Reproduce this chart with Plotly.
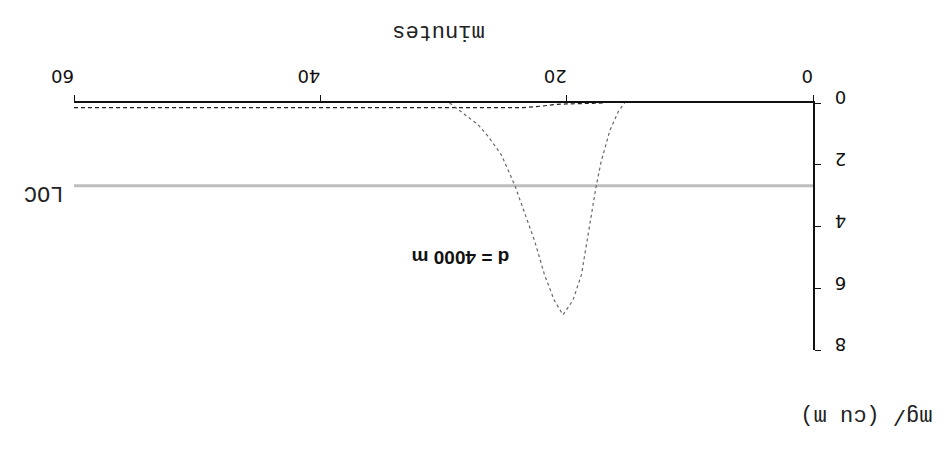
import plotly.graph_objects as go

# concentration curve for d = 4000 m (minutes, mg/cu m)
curve_min = [29.5, 27.2, 26.4, 25.3, 24.2, 23.4, 22.6, 21.8, 21.0, 20.3,
             19.5, 18.8, 18.3, 18.0, 17.6, 17.2, 16.5, 15.8, 15.3]
curve_conc = [0.0, 0.7, 1.07, 1.68, 2.68, 3.6, 4.47, 5.56, 6.4, 6.86,
              6.4, 5.56, 4.37, 3.6, 2.68, 1.9, 0.9, 0.27, 0.0]

# low dashed curve
dash_min = [60, 50, 40, 30, 23.5, 22, 21, 20, 18, 17]
dash_conc = [0.15, 0.15, 0.15, 0.15, 0.15, 0.1, 0.05, 0.03, 0.02, 0.0]

loc_level = 2.68
x_ticks = [0, 20, 40, 60]
y_ticks = [0, 2, 4, 6, 8]

fig = go.Figure()

fig.add_trace(go.Scatter(x=[0, 60], y=[loc_level, loc_level], mode="lines",
                         line=dict(color="#bdbdbd", width=3), showlegend=False))
fig.add_trace(go.Scatter(x=dash_min, y=dash_conc, mode="lines",
                         line=dict(color="#222", width=1.2, dash="4px,3px"), showlegend=False))
fig.add_trace(go.Scatter(x=curve_min, y=curve_conc, mode="lines",
                         line=dict(color="#666", width=1.2, dash="dot"), showlegend=False))

tick_font = dict(family="DejaVu Sans, sans-serif", size=18, color="#111")
mono = dict(family="Liberation Mono, DejaVu Sans Mono, monospace", size=22, color="#222")

fig.update_xaxes(range=[60, 0], side="top", tickvals=x_ticks, ticks="outside",
                 ticklen=6, tickcolor="#111", showline=True, linecolor="#111",
                 linewidth=1.5, showgrid=False, zeroline=False, tickangle=180,
                 tickfont=tick_font, automargin=False)
fig.update_yaxes(range=[8, 0], side="right", tickvals=y_ticks, ticks="outside",
                 ticklen=6, tickcolor="#111", showline=True, linecolor="#111",
                 linewidth=1.5, showgrid=False, zeroline=False, tickangle=180,
                 tickfont=tick_font, ticklabelstandoff=22, automargin=False)

fig.add_annotation(text="minutes", xref="paper", yref="paper", x=0.493, y=1.287,
                   xanchor="center", yanchor="middle",
                   showarrow=False, textangle=180, font=mono)
fig.add_annotation(text="mg/ (cu m)", xref="paper", yref="paper", x=1.072, y=-0.265,
                   xanchor="center", yanchor="middle",
                   showarrow=False, textangle=180, font=mono)
fig.add_annotation(text="LOC", xref="paper", yref="y", x=-0.041, y=loc_level + 0.2,
                   xanchor="center", yanchor="middle",
                   showarrow=False, textangle=180, font=mono)
fig.add_annotation(text="<b>d = 4000 m</b>", xref="x", yref="y", x=28.65, y=5.0,
                   showarrow=False, textangle=180,
                   font=dict(family="Liberation Sans, Arial, sans-serif", size=19, color="#111"))

fig.update_layout(width=947, height=461, plot_bgcolor="white", paper_bgcolor="white",
                  margin=dict(l=66, r=142, t=95, b=119))

fig.write_html("out.html")
